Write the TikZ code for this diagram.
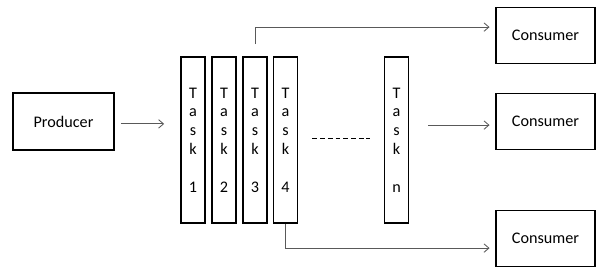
\documentclass[tikz,border=0pt]{standalone}
\usepackage{fontspec}
\setmainfont{Carlito}
\usetikzlibrary{arrows.meta}
\begin{document}
\begin{tikzpicture}[x=0.025cm, y=-0.025cm, font=\fontsize{11.5}{13.4}\selectfont,
          box/.style={draw, line width=1.2pt, align=center, inner sep=0pt},
          task/.style={box, minimum width=0.6cm, minimum height=4.15cm},
          flow/.style={-{Straight Barb[length=3.5pt, width=6pt]}, draw=black!65, line width=0.6pt}]
        \useasboundingbox (0,0) rectangle (600,270);
        \node[box, minimum width=2.525cm, minimum height=1.425cm] (prod) at (63.5,121.5) {Producer};
        \foreach \i/\x in {1/193, 2/224, 3/255, 4/285.5, n/396.5}
          \node[task] (t\i) at (\x,140) {T\\a\\s\\k\\~\\\i};
        \node[box, minimum width=2.475cm, minimum height=1.4cm] (c1) at (545.5,35.5)  {Consumer};
        \node[box, minimum width=2.475cm, minimum height=1.4cm] (c2) at (545.5,121.5) {Consumer};
        \node[box, minimum width=2.475cm, minimum height=1.4cm] (c3) at (545.5,238.5) {Consumer};
        \draw[flow, shorten <=0.15cm, shorten >=0.4cm] ([yshift=-0.06cm]prod.east) -- ([yshift=-0.06cm]prod.east -| t1.west);
        \draw[flow] ([yshift=0.3cm]t3.north) |- ([xshift=-0.14cm, yshift=0.21cm]c1.west);
        \draw[flow, shorten <=0.475cm] ([yshift=-0.09cm]tn.east |- c2.west) -- ([xshift=-0.14cm, yshift=-0.09cm]c2.west);
        \draw[flow] (t4.south) |- ([xshift=-0.14cm, yshift=-0.24cm]c3.west);
        \draw[dashed, dash pattern=on 3.5pt off 2pt, line width=0.6pt, shorten <=0.35cm, shorten >=0.35cm] ([yshift=0.05cm]t4.east) -- ([yshift=0.05cm]tn.west);
      \end{tikzpicture}
\end{document}
